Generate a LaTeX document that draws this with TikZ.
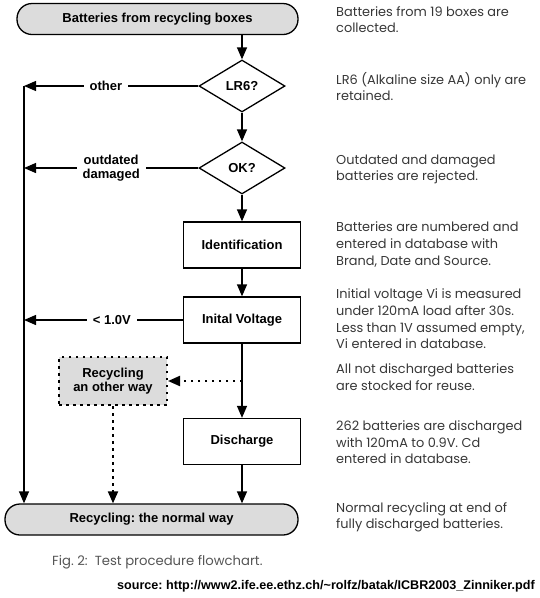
\documentclass[tikz,border=0pt]{standalone}
\usepackage{fontspec}
\setmainfont{Liberation Sans}
\newfontfamily\descfont{Poppins}
\usetikzlibrary{arrows.meta,shapes.geometric}
\definecolor{termgray}{RGB}{220,220,220}
\definecolor{desc}{RGB}{55,55,55}
\definecolor{capgray}{RGB}{85,85,85}
\frenchspacing
\tikzset{
 lbl/.style={font=\fontsize{13}{14.5}\selectfont\bfseries},
 term/.style={draw, line width=1.3pt, fill=termgray, rounded corners=15pt, minimum height=31pt, lbl},
 dia/.style={draw, diamond, line width=1.3pt, inner sep=1pt, lbl, minimum width=86pt, minimum height=52pt},
 proc/.style={draw, line width=1.3pt, minimum width=117pt, minimum height=46pt, lbl},
 arr/.style={line width=1.3pt, -{Triangle[length=12pt,width=10pt]}},
 dotline/.style={line width=2pt, dash pattern=on 2.5pt off 4.5pt},
 dotarr/.style={dotline, -{Triangle[length=12pt,width=10pt]}},
 desctxt/.style={anchor=west, align=left, text=desc, font=\descfont\fontsize{12.9}{16.6}\selectfont, inner sep=0pt},
 edgelbl/.style={fill=white, inner xsep=6pt, lbl}
}
\begin{document}
\begin{tikzpicture}[x=1pt,y=-1pt]
\useasboundingbox (0,0) rectangle (540,598);
% chart nodes
\node[term, minimum width=281pt] (top) at (157.5,19) {Batteries from recycling boxes};
\node[dia] (lr6) at (242,86) {LR6?};
\node[dia] (ok) at (242,168) {OK?};
\node[proc] (id) at (242,245) {Identification};
\node[proc] (iv) at (242,320) {Inital Voltage};
\node[draw, dotline, fill=termgray, minimum width=108pt, minimum height=48pt, align=center, lbl] (rec) at (113,381) {Recycling\\an other way};
\node[proc] (dis) at (242,441.5) {Discharge};
\node[term, minimum width=293pt] (bot) at (151.5,519.5) {Recycling: the normal way};
% connectors
\coordinate (L1) at (24,86);
\draw[arr] (top.south -| lr6.north) -- (lr6.north);
\draw[arr] (lr6.south) -- (ok.north);
\draw[arr] (ok.south) -- (id.north);
\draw[arr] (id.south) -- (iv.north);
\draw[arr] (iv.south) -- (dis.north);
\draw[arr] (dis.south) -- (dis.south |- bot.north);
\draw[arr] (lr6.west) -- node[edgelbl, pos=0.53]{other} (L1);
\draw[arr] (ok.west) -- node[edgelbl, align=center, pos=0.5]{outdated\\damaged} (ok.west -| L1);
\draw[arr] (iv.west) -- node[edgelbl, pos=0.447]{< 1.0V} (iv.west -| L1);
\draw[arr] (L1) -- (L1 |- bot.north);
\coordinate (br) at (iv.south |- rec.east);
\draw[dotarr] (br) -- (rec.east);
\draw[dotarr] (rec.south) -- (rec.south |- bot.north);
% descriptions
\node[desctxt] (d1) at (336,19.5) {Batteries from 19 boxes are\\collected.};
\node[desctxt] (d2) at (336,86.5) {LR6 (Alkaline size AA) only are\\retained.};
\node[desctxt] (d3) at (336,169.5) {Outdated and damaged\\batteries are rejected.};
\node[desctxt] (d4) at (336,244.5) {Batteries are numbered and\\entered in database with\\Brand, Date and Source.};
\node[desctxt] (d5) at (336,319) {Initial voltage Vi is measured\\under 120mA load after 30s.\\Less than 1V assumed empty,\\Vi entered in database.};
\node[desctxt] (d6) at (336,377) {All not discharged batteries\\are stocked for reuse.};
\node[desctxt] (d7) at (336,442.5) {262 batteries are discharged\\with 120mA to 0.9V. Cd\\entered in database.};
\node[desctxt] (d8) at (336,517.5) {Normal recycling at end of\\fully discharged batteries.};
% caption and source
\node[anchor=west, inner sep=0pt, text=capgray, font=\descfont\fontsize{13.2}{15}\selectfont] (cap) at (52,562) {Fig. 2:\ \ Test procedure flowchart.};
\node[anchor=east, inner sep=0pt, font=\bfseries\fontsize{12.6}{14}\selectfont] (src) at (535,586) {source: http://www2.ife.ee.ethz.ch/\textasciitilde rolfz/batak/ICBR2003\_Zinniker.pdf};
\end{tikzpicture}
\end{document}
